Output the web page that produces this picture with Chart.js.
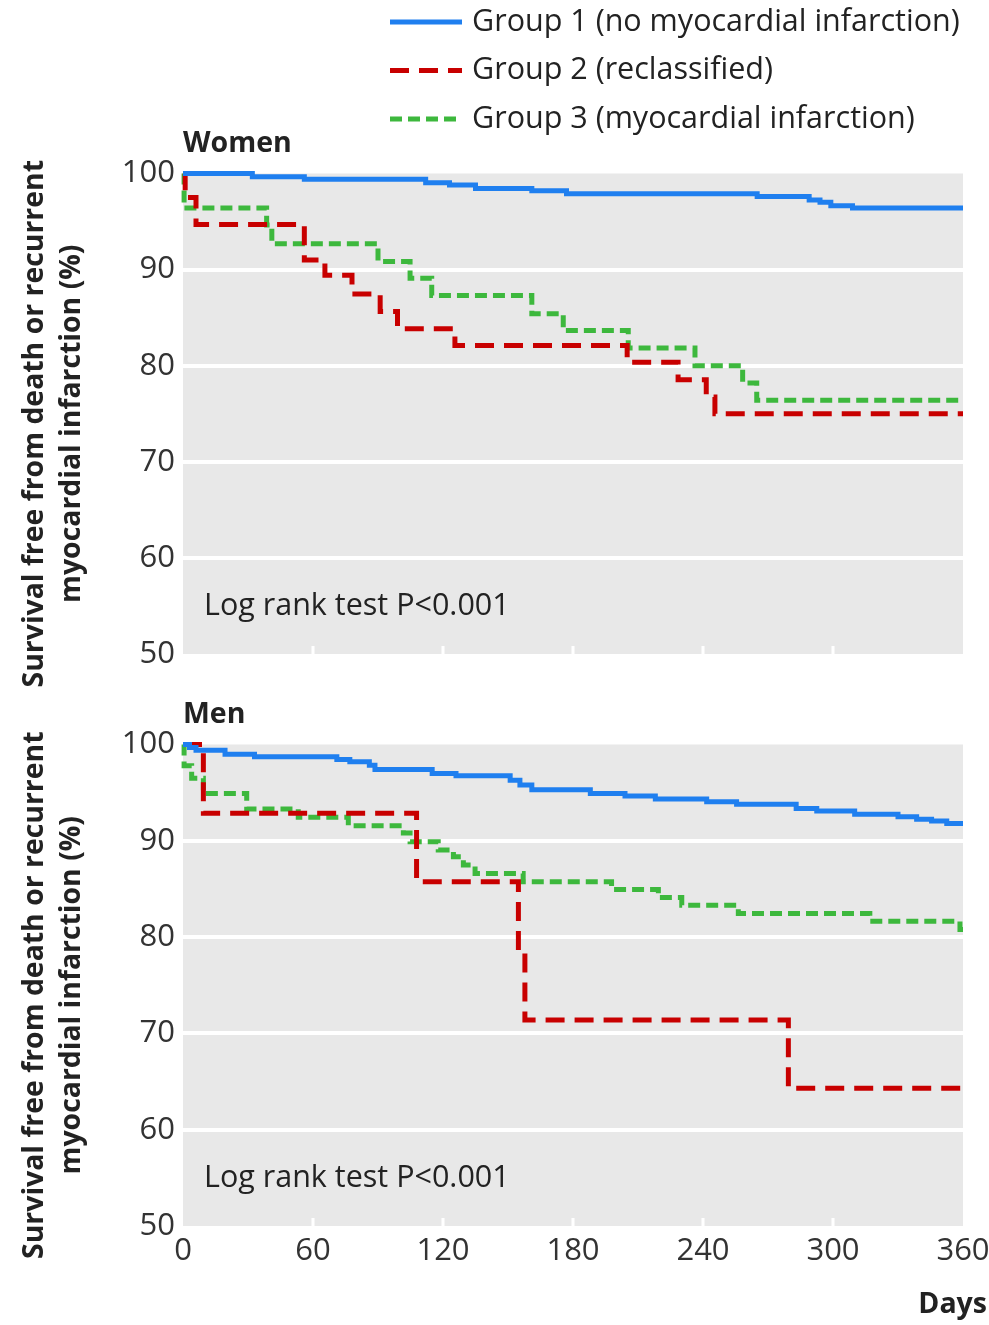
<!DOCTYPE html>
<html lang="en">
<head>
  <meta charset="UTF-8">
  <title>Survival free from death or recurrent myocardial infarction</title>
  <script src="https://cdn.jsdelivr.net/npm/chart.js"></script>
  <style>
    body { margin: 0; background: #fff; }
    .wrap { position: relative; width: 989px; height: 1325px; }
    canvas { position: absolute; left: 0; }
    #women { top: 0; }
    #men { top: 690px; }
  </style>
</head>
<body>
  <div class="wrap">
    <canvas id="women" width="989" height="690"></canvas>
    <canvas id="men" width="989" height="635"></canvas>
  </div>
  <script>
    // Labels and ticks
    const groupNames = ['Group 1 (no myocardial infarction)', 'Group 2 (reclassified)', 'Group 3 (myocardial infarction)'];
    const dayTicks = [0, 60, 120, 180, 240, 300, 360];
    const innerTickDays = [60, 120, 180, 240, 300];
    const yTitle = ['Survival free from death or recurrent', 'myocardial infarction (%)'];
    const noteText = 'Log rank test P<0.001';

    // Women (day at which the curve steps down, survival after the step)
    const womenG1Days = [0, 32, 56, 112, 123, 135, 161, 177, 265, 289, 294, 299, 309, 360];
    const womenG1Surv = [100, 99.65, 99.4, 99.05, 98.8, 98.45, 98.2, 97.9, 97.6, 97.25, 97.0, 96.65, 96.4, 96.4];
    const womenG2Days = [0, 1, 6, 56, 65.5, 78, 91, 99, 125.5, 205, 228.5, 241.5, 245.5, 360];
    const womenG2Surv = [100, 97.5, 94.7, 91.0, 89.4, 87.45, 85.65, 83.85, 82.1, 80.35, 78.55, 76.75, 75.0, 75.0];
    const womenG3Days = [0, 0.5, 38.6, 41, 90, 104.8, 114.8, 161, 175.5, 205.5, 236.3, 258.3, 264.8, 360];
    const womenG3Surv = [100, 96.4, 94.65, 92.7, 90.85, 89.1, 87.3, 85.4, 83.65, 81.85, 80.0, 78.2, 76.4, 76.4];

    // Men
    const menG1Days = [0, 3, 6, 19.4, 33, 71, 77, 86, 88.6, 115, 126, 151, 155.5, 161, 188, 204, 218, 241.7, 255.5, 283, 292.5, 310, 330, 338.6, 345.5, 352.5, 360];
    const menG1Surv = [100, 99.7, 99.4, 99.0, 98.73, 98.45, 98.2, 97.85, 97.4, 97.0, 96.75, 96.3, 95.8, 95.3, 94.9, 94.65, 94.35, 94.05, 93.8, 93.35, 93.1, 92.75, 92.5, 92.25, 92.05, 91.8, 91.8];
    const menG2Days = [0, 9.4, 107.8, 154.8, 157.8, 279.4, 360];
    const menG2Surv = [100, 92.85, 85.75, 78.6, 71.4, 64.3, 64.3];
    const menG3Days = [0, 0.5, 4, 9.4, 29.4, 53.2, 76.3, 101.7, 104.8, 117.8, 124.8, 129.4, 134.8, 157, 197.8, 219.4, 230.2, 256.3, 317, 358.6, 360];
    const menG3Surv = [100, 97.8, 96.5, 94.9, 93.3, 92.45, 91.55, 90.8, 89.9, 89.05, 88.35, 87.5, 86.6, 85.75, 84.95, 84.1, 83.3, 82.45, 81.65, 80.8, 80.8];

    const FONT = "'Open Sans', sans-serif";
    Chart.defaults.font.family = FONT;
    Chart.defaults.color = '#222';

    const styles = [
      { color: '#1f7fef', dash: [] },
      { color: '#c80000', dash: [19, 10] },
      { color: '#3db83d', dash: [12, 6] }
    ];

    function points(days, surv) {
      return days.map((d, i) => ({ x: d, y: surv[i] }));
    }

    function makeDatasets(list) {
      return list.map((pair, i) => ({
        label: groupNames[i],
        data: points(pair[0], pair[1]),
        borderColor: styles[i].color,
        borderDash: styles[i].dash,
        borderWidth: 5,
        borderCapStyle: 'butt',
        stepped: true,
        pointRadius: 0,
        fill: false,
        clip: 8,
        order: i
      }));
    }

    // grey panel + white tick marks at the bottom edge
    const panel = {
      id: 'panel',
      beforeDraw(chart) {
        const { ctx, chartArea: a } = chart;
        ctx.save();
        ctx.fillStyle = '#e8e8e8';
        ctx.fillRect(a.left, a.top, a.right - a.left, a.bottom - a.top);
        ctx.restore();
      },
      beforeDatasetsDraw(chart) {
        const { ctx, chartArea: a, scales } = chart;
        ctx.save();
        ctx.fillStyle = '#fff';
        innerTickDays.forEach(d => {
          const x = scales.x.getPixelForValue(d);
          ctx.fillRect(x - 1.5, a.bottom - 8, 3, 8);
        });
        ctx.restore();
      }
    };

    // panel heading, rotated y title (a bit below centre, as in the original) and log rank note
    const panelText = {
      id: 'panelText',
      afterDraw(chart, args, opts) {
        const { ctx, chartArea: a, scales } = chart;
        ctx.save();
        ctx.fillStyle = '#222';
        ctx.textBaseline = 'middle';
        ctx.textAlign = 'left';
        ctx.font = 'bold 28.5px ' + FONT;
        ctx.fillText(opts.title, a.left, a.top - 30);
        ctx.font = '30.5px ' + FONT;
        ctx.fillText(noteText, a.left + 21, scales.y.getPixelForValue(55));
        if (opts.xTitle) {
          ctx.font = 'bold 28.5px ' + FONT;
          ctx.textAlign = 'right';
          ctx.fillText(opts.xTitle, chart.width - 2, a.bottom + 79);
        }
        const cy = (a.top + a.bottom) / 2 + 10;
        ctx.font = 'bold 28.4px ' + FONT;
        ctx.textAlign = 'center';
        yTitle.forEach((line, i) => {
          ctx.save();
          ctx.translate(35 + i * 37, cy);
          ctx.rotate(-Math.PI / 2);
          ctx.fillText(line, 0, 0);
          ctx.restore();
        });
        ctx.restore();
      }
    };

    // legend at the top of the women panel
    const topLegend = {
      id: 'topLegend',
      afterDraw(chart, args, opts) {
        if (!opts.show) return;
        const { ctx } = chart;
        ctx.save();
        chart.data.datasets.forEach((ds, i) => {
          const y = 22 + i * 48.5;
          ctx.strokeStyle = ds.borderColor;
          ctx.lineWidth = 5;
          ctx.setLineDash(ds.borderDash);
          ctx.beginPath();
          ctx.moveTo(390, y);
          ctx.lineTo(462, y);
          ctx.stroke();
          ctx.setLineDash([]);
          ctx.fillStyle = '#222';
          ctx.font = '30.5px ' + FONT;
          ctx.textBaseline = 'middle';
          ctx.fillText(ds.label, 472, y);
        });
        ctx.restore();
      }
    };

    function makeChart(id, datasets, opts) {
      const ctx = document.getElementById(id).getContext('2d');
      return new Chart(ctx, {
        type: 'line',
        data: { datasets: datasets },
        options: {
          responsive: false,
          animation: false,
          layout: { padding: { top: opts.top, right: 26, bottom: opts.bottom, left: 0 } },
          plugins: {
            legend: { display: false },
            tooltip: { enabled: false },
            panelText: { title: opts.title, xTitle: opts.xTitle },
            topLegend: { show: opts.legend }
          },
          scales: {
            x: {
              type: 'linear',
              min: 0,
              max: 360,
              display: opts.showX,
              afterBuildTicks: s => { s.ticks = dayTicks.map(v => ({ value: v })); },
              afterFit: s => { s.height = opts.xHeight; s.paddingLeft = 0; s.paddingRight = 0; },
              grid: { display: false, drawTicks: false },
              border: { display: false },
              ticks: { font: { size: 31 }, color: '#333', padding: 7, maxRotation: 0 }
            },
            y: {
              min: 50,
              max: 100,
              afterFit: s => { s.width = 183; },
              ticks: { stepSize: 10, font: { size: 31 }, color: '#333', padding: 8 },
              grid: {
                drawTicks: false,
                lineWidth: 4,
                color: c => (c.tick.value === 100 || c.tick.value === 50) ? 'rgba(0,0,0,0)' : '#ffffff'
              },
              border: { display: false }
            }
          }
        },
        plugins: [panel, panelText, topLegend]
      });
    }

    makeChart('women', makeDatasets([
      [womenG1Days, womenG1Surv],
      [womenG2Days, womenG2Surv],
      [womenG3Days, womenG3Surv]
    ]), { top: 173.5, bottom: 36, xHeight: 0, title: 'Women', legend: true, showX: false });

    makeChart('men', makeDatasets([
      [menG1Days, menG1Surv],
      [menG2Days, menG2Surv],
      [menG3Days, menG3Surv]
    ]), { top: 54.5, bottom: 0, xHeight: 99, title: 'Men', xTitle: 'Days', legend: false, showX: true });
  </script>
</body>
</html>
